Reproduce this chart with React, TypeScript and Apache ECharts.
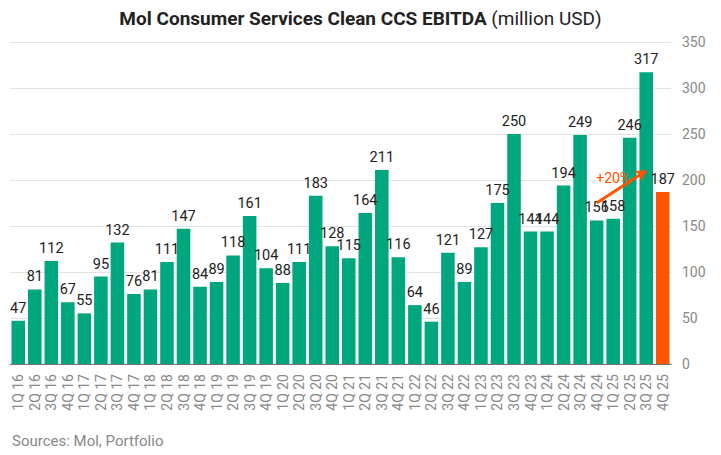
import React, { useEffect, useRef } from "react";
import * as echarts from "echarts";

const quarters = ["1Q", "2Q", "3Q", "4Q"];
const years = ["16", "17", "18", "19", "20", "21", "22", "23", "24", "25"];
const categories: string[] = years.flatMap((y) => quarters.map((q) => `${q} ${y}`));
const values = [
  47, 81, 112, 67, 55, 95, 132, 76, 81, 111, 147, 84, 89, 118, 161, 104, 88, 111, 183, 128,
  115, 164, 211, 116, 64, 46, 121, 89, 127, 175, 250, 144, 144, 194, 249, 156, 158, 246, 317, 187,
];
const arrowFrom = { cat: "4Q 24", value: 175 };
const arrowTo = { cat: "3Q 25", value: 210 };
const arrowLabel = { cat: "1Q 25", value: 202, text: "+20%" };

const GREEN = "#00A67E";
const ORANGE = "#FF5400";

export default function App() {
  const ref = useRef<HTMLDivElement>(null);
  useEffect(() => {
    if (!ref.current) return;
    const chart = echarts.init(ref.current, null, { renderer: "svg" });
    const last = values.length - 1;
    chart.setOption({
      animation: false,
      textStyle: { fontFamily: "Roboto" },
      title: {
        text: "{b|Mol Consumer Services Clean CCS EBITDA} {n|(million USD)}",
        left: "center",
        top: 4,
        textStyle: {
          rich: {
            b: { fontFamily: "Roboto", fontWeight: "bold", fontSize: 19, color: "#222" },
            n: { fontFamily: "Roboto", fontWeight: "normal", fontSize: 19, color: "#222" },
          },
        },
      },
      graphic: [
        {
          type: "text",
          left: 12,
          top: 433,
          style: { text: "Sources: Mol, Portfolio", fill: "#888", font: "15px Roboto" },
        },
      ],
      grid: { left: 10, right: 50, top: 42, bottom: 91, containLabel: false },
      xAxis: {
        type: "category",
        data: categories,
        axisLine: { lineStyle: { color: "#777" } },
        axisTick: { show: false },
        axisLabel: { rotate: 90, interval: 0, color: "#888", fontSize: 14, margin: 10 },
      },
      yAxis: {
        type: "value",
        position: "right",
        min: 0,
        max: 350,
        interval: 50,
        axisLabel: { color: "#888", fontSize: 14, margin: 11 },
        splitLine: { lineStyle: { color: "#e3e3e3" } },
        axisLine: { show: false },
        axisTick: { show: false },
      },
      series: [
        {
          type: "bar",
          data: values.map((v, i) => ({
            value: v,
            itemStyle: { color: i === last ? ORANGE : GREEN },
          })),
          barCategoryGap: "18%",
          label: { show: true, position: "top", color: "#222", fontSize: 14.5, distance: 5 },
          markLine: {
            silent: true,
            symbol: ["none", "arrow"],
            symbolSize: 10,
            lineStyle: { color: ORANGE, width: 3, type: "solid" },
            label: { show: false },
            data: [
              [
                { coord: [arrowFrom.cat, arrowFrom.value] },
                { coord: [arrowTo.cat, arrowTo.value] },
              ],
            ],
          },
          markPoint: {
            silent: true,
            symbol: "circle",
            symbolSize: 0,
            label: {
              show: true,
              position: "inside",
              formatter: arrowLabel.text,
              color: ORANGE,
              fontSize: 14,
            },
            data: [{ coord: [arrowLabel.cat, arrowLabel.value] }],
          },
        },
      ],
    });
    return () => chart.dispose();
  }, []);
  return (
    <div
      ref={ref}
      style={{ position: "absolute", left: 0, top: 0, width: 721, height: 455, background: "#fff" }}
    />
  );
}
